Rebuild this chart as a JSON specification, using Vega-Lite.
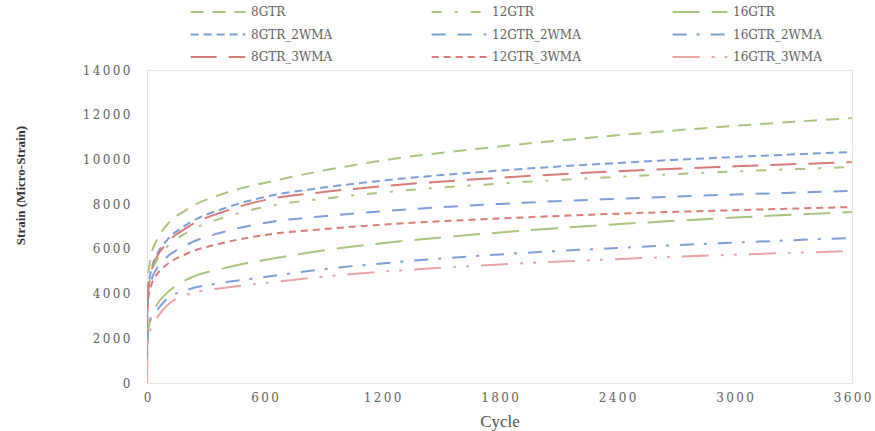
{
  "$schema": "https://vega.github.io/schema/vega-lite/v6.json",
  "autosize": "none",
  "width": 705,
  "height": 313,
  "padding": {"left": 147, "top": 70, "right": 23, "bottom": 48},
  "background": "white",
  "config": {
    "view": {"stroke": "#e4e4e4", "strokeWidth": 1},
    "axis": {"labelFont": "DejaVu Serif", "labelColor": "#606060", "labelFontSize": 12, "grid": false, "domain": false, "ticks": false, "format": "d", "labelFlush": false, "labelExpr": "replace(datum.label, /(\\d)(?=\\d)/g, '$1\u2009')"}
  },
  "data": {
    "values": [
      {"s":"8GTR","c":0,"v":0},{"s":"8GTR","c":1,"v":3700},{"s":"8GTR","c":5,"v":4650},{"s":"8GTR","c":10,"v":5100},{"s":"8GTR","c":20,"v":5650},{"s":"8GTR","c":50,"v":6400},{"s":"8GTR","c":100,"v":7050},{"s":"8GTR","c":200,"v":7740},{"s":"8GTR","c":400,"v":8500},{"s":"8GTR","c":600,"v":8950},{"s":"8GTR","c":900,"v":9500},{"s":"8GTR","c":1200,"v":9950},{"s":"8GTR","c":1800,"v":10580},{"s":"8GTR","c":2400,"v":11080},{"s":"8GTR","c":3000,"v":11500},{"s":"8GTR","c":3600,"v":11850},
      {"s":"8GTR_2WMA","c":0,"v":0},{"s":"8GTR_2WMA","c":1,"v":3190},{"s":"8GTR_2WMA","c":5,"v":4060},{"s":"8GTR_2WMA","c":10,"v":4510},{"s":"8GTR_2WMA","c":20,"v":5000},{"s":"8GTR_2WMA","c":50,"v":5740},{"s":"8GTR_2WMA","c":100,"v":6370},{"s":"8GTR_2WMA","c":200,"v":7070},{"s":"8GTR_2WMA","c":400,"v":7830},{"s":"8GTR_2WMA","c":600,"v":8320},{"s":"8GTR_2WMA","c":900,"v":8740},{"s":"8GTR_2WMA","c":1200,"v":9050},{"s":"8GTR_2WMA","c":1800,"v":9500},{"s":"8GTR_2WMA","c":2400,"v":9840},{"s":"8GTR_2WMA","c":3000,"v":10110},{"s":"8GTR_2WMA","c":3600,"v":10330},
      {"s":"8GTR_3WMA","c":0,"v":0},{"s":"8GTR_3WMA","c":1,"v":3120},{"s":"8GTR_3WMA","c":5,"v":3980},{"s":"8GTR_3WMA","c":10,"v":4420},{"s":"8GTR_3WMA","c":20,"v":4900},{"s":"8GTR_3WMA","c":50,"v":5620},{"s":"8GTR_3WMA","c":100,"v":6240},{"s":"8GTR_3WMA","c":200,"v":6930},{"s":"8GTR_3WMA","c":400,"v":7690},{"s":"8GTR_3WMA","c":600,"v":8180},{"s":"8GTR_3WMA","c":900,"v":8540},{"s":"8GTR_3WMA","c":1200,"v":8800},{"s":"8GTR_3WMA","c":1800,"v":9180},{"s":"8GTR_3WMA","c":2400,"v":9470},{"s":"8GTR_3WMA","c":3000,"v":9690},{"s":"8GTR_3WMA","c":3600,"v":9880},
      {"s":"12GTR","c":0,"v":0},{"s":"12GTR","c":1,"v":3110},{"s":"12GTR","c":5,"v":3930},{"s":"12GTR","c":10,"v":4350},{"s":"12GTR","c":20,"v":4810},{"s":"12GTR","c":50,"v":5490},{"s":"12GTR","c":100,"v":6070},{"s":"12GTR","c":200,"v":6710},{"s":"12GTR","c":400,"v":7420},{"s":"12GTR","c":600,"v":7870},{"s":"12GTR","c":900,"v":8240},{"s":"12GTR","c":1200,"v":8520},{"s":"12GTR","c":1800,"v":8920},{"s":"12GTR","c":2400,"v":9220},{"s":"12GTR","c":3000,"v":9460},{"s":"12GTR","c":3600,"v":9660},
      {"s":"12GTR_2WMA","c":0,"v":0},{"s":"12GTR_2WMA","c":1,"v":3030},{"s":"12GTR_2WMA","c":5,"v":3760},{"s":"12GTR_2WMA","c":10,"v":4130},{"s":"12GTR_2WMA","c":20,"v":4530},{"s":"12GTR_2WMA","c":50,"v":5120},{"s":"12GTR_2WMA","c":100,"v":5620},{"s":"12GTR_2WMA","c":200,"v":6170},{"s":"12GTR_2WMA","c":400,"v":6780},{"s":"12GTR_2WMA","c":600,"v":7160},{"s":"12GTR_2WMA","c":900,"v":7460},{"s":"12GTR_2WMA","c":1200,"v":7680},{"s":"12GTR_2WMA","c":1800,"v":8010},{"s":"12GTR_2WMA","c":2400,"v":8240},{"s":"12GTR_2WMA","c":3000,"v":8430},{"s":"12GTR_2WMA","c":3600,"v":8590},
      {"s":"12GTR_3WMA","c":0,"v":0},{"s":"12GTR_3WMA","c":1,"v":2980},{"s":"12GTR_3WMA","c":5,"v":3640},{"s":"12GTR_3WMA","c":10,"v":3970},{"s":"12GTR_3WMA","c":20,"v":4330},{"s":"12GTR_3WMA","c":50,"v":4850},{"s":"12GTR_3WMA","c":100,"v":5290},{"s":"12GTR_3WMA","c":200,"v":5770},{"s":"12GTR_3WMA","c":400,"v":6290},{"s":"12GTR_3WMA","c":600,"v":6620},{"s":"12GTR_3WMA","c":900,"v":6880},{"s":"12GTR_3WMA","c":1200,"v":7080},{"s":"12GTR_3WMA","c":1800,"v":7360},{"s":"12GTR_3WMA","c":2400,"v":7570},{"s":"12GTR_3WMA","c":3000,"v":7730},{"s":"12GTR_3WMA","c":3600,"v":7870},
      {"s":"16GTR","c":0,"v":0},{"s":"16GTR","c":1,"v":1600},{"s":"16GTR","c":5,"v":2200},{"s":"16GTR","c":10,"v":2530},{"s":"16GTR","c":20,"v":2910},{"s":"16GTR","c":50,"v":3490},{"s":"16GTR","c":100,"v":4010},{"s":"16GTR","c":200,"v":4610},{"s":"16GTR","c":400,"v":5150},{"s":"16GTR","c":600,"v":5500},{"s":"16GTR","c":900,"v":5930},{"s":"16GTR","c":1200,"v":6250},{"s":"16GTR","c":1800,"v":6730},{"s":"16GTR","c":2400,"v":7100},{"s":"16GTR","c":3000,"v":7400},{"s":"16GTR","c":3600,"v":7650},
      {"s":"16GTR_2WMA","c":0,"v":0},{"s":"16GTR_2WMA","c":1,"v":1800},{"s":"16GTR_2WMA","c":5,"v":2330},{"s":"16GTR_2WMA","c":10,"v":2600},{"s":"16GTR_2WMA","c":20,"v":2900},{"s":"16GTR_2WMA","c":50,"v":3250},{"s":"16GTR_2WMA","c":100,"v":3750},{"s":"16GTR_2WMA","c":200,"v":4150},{"s":"16GTR_2WMA","c":400,"v":4500},{"s":"16GTR_2WMA","c":600,"v":4740},{"s":"16GTR_2WMA","c":900,"v":5090},{"s":"16GTR_2WMA","c":1200,"v":5350},{"s":"16GTR_2WMA","c":1800,"v":5750},{"s":"16GTR_2WMA","c":2400,"v":6040},{"s":"16GTR_2WMA","c":3000,"v":6280},{"s":"16GTR_2WMA","c":3600,"v":6490},
      {"s":"16GTR_3WMA","c":0,"v":0},{"s":"16GTR_3WMA","c":1,"v":1400},{"s":"16GTR_3WMA","c":5,"v":1900},{"s":"16GTR_3WMA","c":10,"v":2150},{"s":"16GTR_3WMA","c":20,"v":2450},{"s":"16GTR_3WMA","c":50,"v":2910},{"s":"16GTR_3WMA","c":100,"v":3450},{"s":"16GTR_3WMA","c":200,"v":3940},{"s":"16GTR_3WMA","c":400,"v":4260},{"s":"16GTR_3WMA","c":600,"v":4470},{"s":"16GTR_3WMA","c":900,"v":4760},{"s":"16GTR_3WMA","c":1200,"v":4980},{"s":"16GTR_3WMA","c":1800,"v":5300},{"s":"16GTR_3WMA","c":2400,"v":5540},{"s":"16GTR_3WMA","c":3000,"v":5740},{"s":"16GTR_3WMA","c":3600,"v":5900}
    ]
  },
  "mark": {"type": "line", "strokeWidth": 2, "interpolate": "monotone", "clip": true},
  "encoding": {
    "x": {"field": "c", "type": "quantitative", "scale": {"domain": [0, 3600], "nice": false},
      "axis": {"values": [0, 600, 1200, 1800, 2400, 3000, 3600], "labelPadding": 9, "title": "Cycle", "titleFont": "Liberation Serif", "titleFontSize": 17, "titleFontWeight": "normal", "titleColor": "#505050", "titlePadding": 10}},
    "y": {"field": "v", "type": "quantitative", "scale": {"domain": [0, 14000], "nice": false},
      "axis": {"values": [0, 2000, 4000, 6000, 8000, 10000, 12000, 14000], "labelPadding": 17, "title": "Strain (Micro-Strain)", "titleFont": "Liberation Serif", "titleFontSize": 13, "titleFontWeight": "bold", "titleColor": "#333333", "titlePadding": 55, "titleY": 115}},
    "color": {"field": "s", "type": "nominal",
      "scale": {"domain": ["8GTR","8GTR_2WMA","8GTR_3WMA","12GTR","12GTR_2WMA","12GTR_3WMA","16GTR","16GTR_2WMA","16GTR_3WMA"],
        "range": ["#a9c47c","#7d9dd4","#d77b78","#a9c47c","#7d9dd4","#d77b78","#a9c47c","#7d9dd4","#e8a3a2"]},
      "legend": {"orient": "none", "legendX": 65, "legendY": -64, "columns": 3, "title": null, "symbolType": "M-10,0H10", "symbolSize": 30, "symbolStrokeWidth": 2, "labelFont": "DejaVu Serif", "labelFontSize": 12, "labelColor": "#606060", "labelOffset": 27, "gridAlign": "all", "columnPadding": 87, "rowPadding": 10.5, "labelLimit": 300}},
    "strokeDash": {"field": "s", "type": "nominal",
      "scale": {"domain": ["8GTR","8GTR_2WMA","8GTR_3WMA","12GTR","12GTR_2WMA","12GTR_3WMA","16GTR","16GTR_2WMA","16GTR_3WMA"],
        "range": [[13,9],[8,5],[26,12],[10,13,3,13],[14,12],[7,5],[27,12],[14,10,3,11],[27,12,3,10,3,12]]},
      "legend": null}
  }
}
